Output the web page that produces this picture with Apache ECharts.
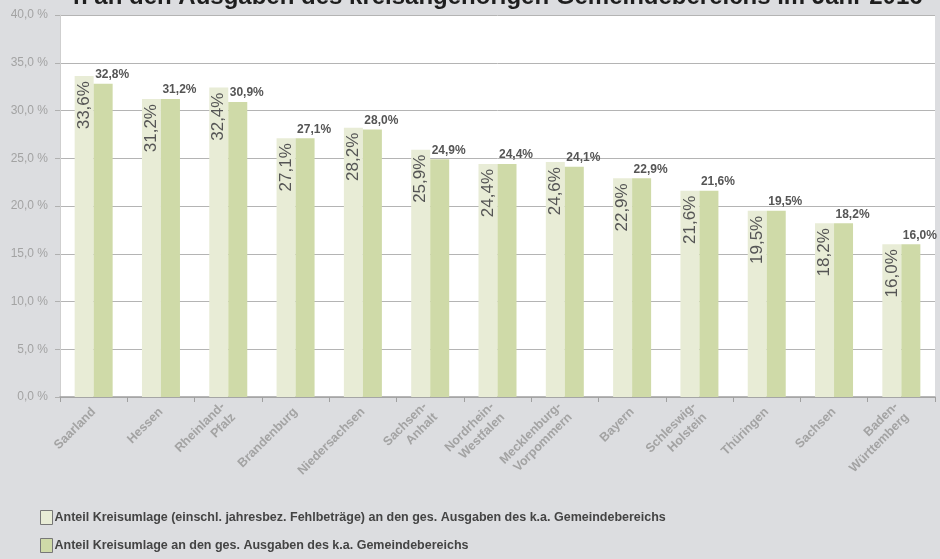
<!DOCTYPE html>
<html>
<head>
<meta charset="utf-8">
<script src="https://cdn.jsdelivr.net/npm/echarts@6/dist/echarts.min.js"></script>
<style>
html,body{margin:0;padding:0;background:#dcdde0;}
#chart{width:940px;height:559px;}
</style>
</head>
<body>
<div id="chart"></div>
<script>
const categories = ["Saarland","Hessen","Rheinland-\nPfalz","Brandenburg","Niedersachsen","Sachsen-\nAnhalt","Nordrhein-\nWestfalen","Mecklenburg-\nVorpommern","Bayern","Schleswig-\nHolstein","Thüringen","Sachsen","Baden-\nWürttemberg"];
const seriesNames = ["Anteil Kreisumlage (einschl. jahresbez. Fehlbeträge) an den ges. Ausgaben des k.a. Gemeindebereichs","Anteil Kreisumlage an den ges. Ausgaben des k.a. Gemeindebereichs"];
const valuesInclFehl = [33.6,31.2,32.4,27.1,28.2,25.9,24.4,24.6,22.9,21.6,19.5,18.2,16.0];
const valuesKreisumlage = [32.8,31.2,30.9,27.1,28.0,24.9,24.4,24.1,22.9,21.6,19.5,18.2,16.0];
const titleText = "n an den Ausgaben des kreisangehörigen Gemeindebereichs im Jahr 2016";

const FONT = 'Liberation Sans, Arial, sans-serif';
const fmt = v => v.toFixed(1).replace('.', ',');
const legendBase = {orient:'vertical',left:40,padding:0,itemWidth:12,itemHeight:14,icon:'rect',
  itemStyle:{borderColor:'#777',borderWidth:1},
  textStyle:{fontSize:12.5,fontWeight:'bold',color:'#444',padding:[0,0,0,-3],fontFamily:FONT}};
const chart = echarts.init(document.getElementById('chart'), null, {renderer:'canvas'});
chart.setOption({
  backgroundColor:'#dcdde0',
  animation:false,
  textStyle:{fontFamily:FONT},
  title:{text:titleText,left:73,top:-15,padding:0,textStyle:{fontSize:24,fontWeight:'bold',color:'#1e1e1e',fontFamily:FONT}},
  grid:{left:60,right:5,top:15,bottom:162,show:true,backgroundColor:'#ffffff',borderWidth:0},
  legend:[
    Object.assign({}, legendBase, {top:510, data:[seriesNames[0]]}),
    Object.assign({}, legendBase, {top:538, data:[seriesNames[1]]})
  ],
  xAxis:{type:'category',data:categories,
    axisLine:{lineStyle:{color:'#a0a0a0',width:1.5}},
    axisTick:{show:true,length:5,lineStyle:{color:'#a0a0a0'}},
    axisLabel:{rotate:45,interval:0,fontSize:12.5,fontWeight:'bold',color:'#a3a3a3',margin:13,lineHeight:15}},
  yAxis:{type:'value',min:0,max:40,interval:5,
    axisLine:{show:true,lineStyle:{color:'#cfcfcf'}},
    axisTick:{show:true,length:5,lineStyle:{color:'#b0b0b0'}},
    splitLine:{lineStyle:{color:'#b4b4b4'}},
    axisLabel:{formatter:v=>fmt(v)+' %',fontSize:12,color:'#a3a3a3',margin:12}},
  series:[
    {name:seriesNames[0],type:'bar',data:valuesInclFehl,barWidth:19,barGap:'0%',
      itemStyle:{color:'#e8ecd6'},
      label:{show:true,position:'insideTop',rotate:90,align:'right',verticalAlign:'middle',distance:5,
        formatter:p=>fmt(p.value)+'%',fontSize:17,color:'#555',fontFamily:FONT}},
    {name:seriesNames[1],type:'bar',data:valuesKreisumlage,barWidth:19,
      itemStyle:{color:'#cfdaa8'},
      label:{show:true,position:'top',distance:3,offset:[9,0],formatter:p=>fmt(p.value)+'%',
        fontSize:12,fontWeight:'bold',color:'#555'}}
  ]
});
</script>
</body>
</html>
